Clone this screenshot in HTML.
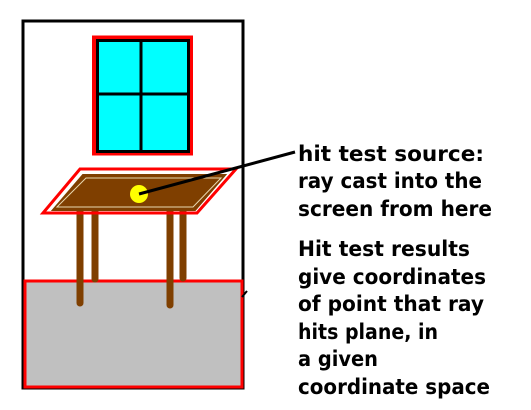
<!DOCTYPE html>
<html><head><meta charset="utf-8"><style>
html,body{margin:0;padding:0;background:#fff;width:531px;height:410px;overflow:hidden}
svg text{font-family:"DejaVu Sans","Liberation Sans",sans-serif;font-weight:bold;font-size:21px;fill:#000}
</style></head><body>
<svg width="531" height="410" viewBox="0 0 531 410">
<rect x="23" y="21" width="220" height="367" fill="#fff" stroke="#000" stroke-width="3"/>
<g>
<rect x="94" y="37.5" width="97" height="116" fill="none" stroke="#f00" stroke-width="4"/>
<rect x="97.5" y="40.5" width="91" height="111" fill="#0ff" stroke="#000" stroke-width="3"/>
<line x1="141" y1="40" x2="141" y2="152" stroke="#000" stroke-width="3"/>
<line x1="97" y1="94" x2="189" y2="94" stroke="#000" stroke-width="3"/>
</g>
<g>
<rect x="25" y="281" width="217" height="106" fill="#c0c0c0" stroke="#f00" stroke-width="3"/>
</g>
<g>
<g stroke="#7f3f00" stroke-width="7" stroke-linecap="round">
<line x1="95" y1="205" x2="95" y2="279"/>
<line x1="183" y1="205" x2="183" y2="278"/>
<line x1="80" y1="208" x2="80" y2="303"/>
<line x1="170" y1="208" x2="170" y2="305"/>
</g>
<polygon points="80,169 236,169 197,213 43,213" fill="none" stroke="#f00" stroke-width="3"/>
<polygon points="83,175 225,175 195,210 53,210" fill="#7f3f00" stroke="#7f3f00" stroke-width="2"/>
<polygon points="86,178 221,178 193,207 57,207" fill="none" stroke="#e8d8b0" stroke-width="1"/>
</g>
<circle cx="139" cy="194" r="9" fill="#ff0"/>
<line x1="139" y1="194" x2="295" y2="152" stroke="#000" stroke-width="3"/>
<line x1="242" y1="297" x2="247" y2="291" stroke="#000" stroke-width="2"/>
<g>
<text x="298" y="161" textLength="186" lengthAdjust="spacingAndGlyphs">hit test source:</text>
<text x="298" y="188" textLength="184" lengthAdjust="spacingAndGlyphs">ray cast into the</text>
<text x="298" y="216" textLength="194" lengthAdjust="spacingAndGlyphs">screen from here</text>
</g>
<g>
<text x="298" y="256" textLength="172" lengthAdjust="spacingAndGlyphs">Hit test results</text>
<text x="298" y="284" textLength="188" lengthAdjust="spacingAndGlyphs">give coordinates</text>
<text x="298" y="311" textLength="186" lengthAdjust="spacingAndGlyphs">of point that ray</text>
<text x="298" y="339" textLength="140" lengthAdjust="spacingAndGlyphs">hits plane, in</text>
<text x="298" y="366" textLength="80" lengthAdjust="spacingAndGlyphs">a given</text>
<text x="298" y="394" textLength="192" lengthAdjust="spacingAndGlyphs">coordinate space</text>
</g>
</svg>
</body></html>
